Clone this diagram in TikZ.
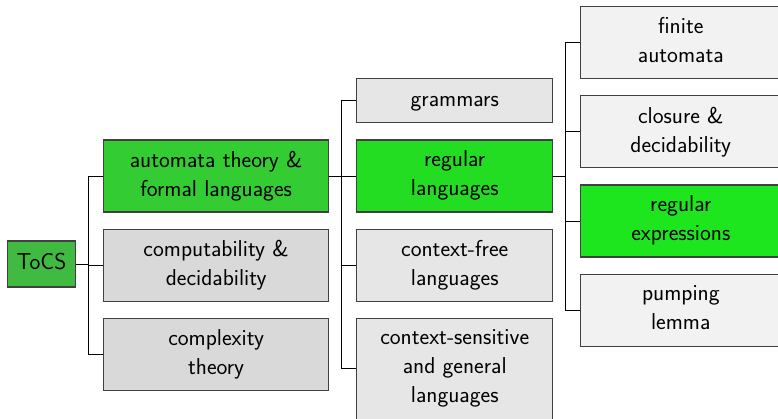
\documentclass[tikz,border=0pt]{standalone}
\usepackage{tikz}
\usetikzlibrary{positioning}

\definecolor{rootgreen}{RGB}{64,186,64}
\definecolor{lvlonegreen}{RGB}{51,204,51}
\definecolor{lvltwogreen}{RGB}{34,221,34}
\definecolor{lvlthreegreen}{RGB}{30,230,30}
\definecolor{lvlonegray}{RGB}{217,217,217}
\definecolor{lvltwogray}{RGB}{230,230,230}
\definecolor{lvlthreegray}{RGB}{242,242,242}

\newcommand\topstrut{\rule{0pt}{17pt}}
\newcommand\botstrut{\rule[-5pt]{0pt}{5pt}}

\tikzset{
	topic/.style={rectangle, draw=black!75, line width=1.1pt, align=center, minimum height=72pt, inner sep=4pt, font=\fontsize{23}{29}\selectfont\sffamily, execute at begin node=\topstrut, execute at end node=\botstrut},
	lvlone/.style={topic, minimum width=225pt},
	lvltwo/.style={topic, minimum width=196pt},
	lvlthree/.style={topic, minimum width=200pt},
	fork/.style={draw=black, line width=0.9pt}
}

\begin{document}
\begin{tikzpicture}[node distance=16pt]
	\useasboundingbox (0,0) rectangle (778pt,-419pt);

	\node (tocs) [topic, fill=rootgreen, minimum width=68pt, minimum height=46pt] at (41.5pt,-264pt) {ToCS};

	\node (automata) [lvlone, fill=lvlonegreen, right=27pt of tocs, yshift=88pt]
	{
		automata theory \&\\
		formal languages
	};
	\node (computability) [lvlone, fill=lvlonegray, below=of automata]
	{
		computability \&\\
		decidability
	};
	\node (complexity) [lvlone, fill=lvlonegray, below=of computability]
	{
		complexity\\
		theory
	};

	\node (regular) [lvltwo, fill=lvltwogreen, right=27pt of automata]
	{
		regular\\
		languages
	};
	\node (grammars) [lvltwo, fill=lvltwogray, minimum height=44pt, above=of regular] {grammars};
	\node (contextfree) [lvltwo, fill=lvltwogray, below=of regular]
	{
		context-free\\
		languages
	};
	\node (contextsens) [lvltwo, fill=lvltwogray, minimum height=101pt, below=of contextfree]
	{
		context-sensitive\\
		and general\\
		languages
	};

	\node (regexp) [lvlthree, fill=lvlthreegreen, right=27pt of regular, yshift=-45pt]
	{
		regular\\
		expressions
	};
	\node (closure) [lvlthree, fill=lvlthreegray, above=of regexp]
	{
		closure \&\\
		decidability
	};
	\node (finite) [lvlthree, fill=lvlthreegray, above=of closure]
	{
		finite\\
		automata
	};
	\node (pumping) [lvlthree, fill=lvlthreegray, below=of regexp]
	{
		pumping\\
		lemma
	};

	\draw[fork] (tocs.east) -- ++(12pt,0) coordinate (forkroot);
	\foreach \child in {automata,computability,complexity}
		\draw[fork] (forkroot) |- (\child.west);

	\draw[fork] (automata.east) -- ++(12pt,0) coordinate (forkauto);
	\foreach \child in {grammars,regular,contextfree,contextsens}
		\draw[fork] (forkauto) |- (\child.west);

	\draw[fork] (regular.east) -- ++(12pt,0) coordinate (forkreg);
	\foreach \child in {finite,closure,regexp,pumping}
		\draw[fork] (forkreg) |- (\child.west);
\end{tikzpicture}
\end{document}
